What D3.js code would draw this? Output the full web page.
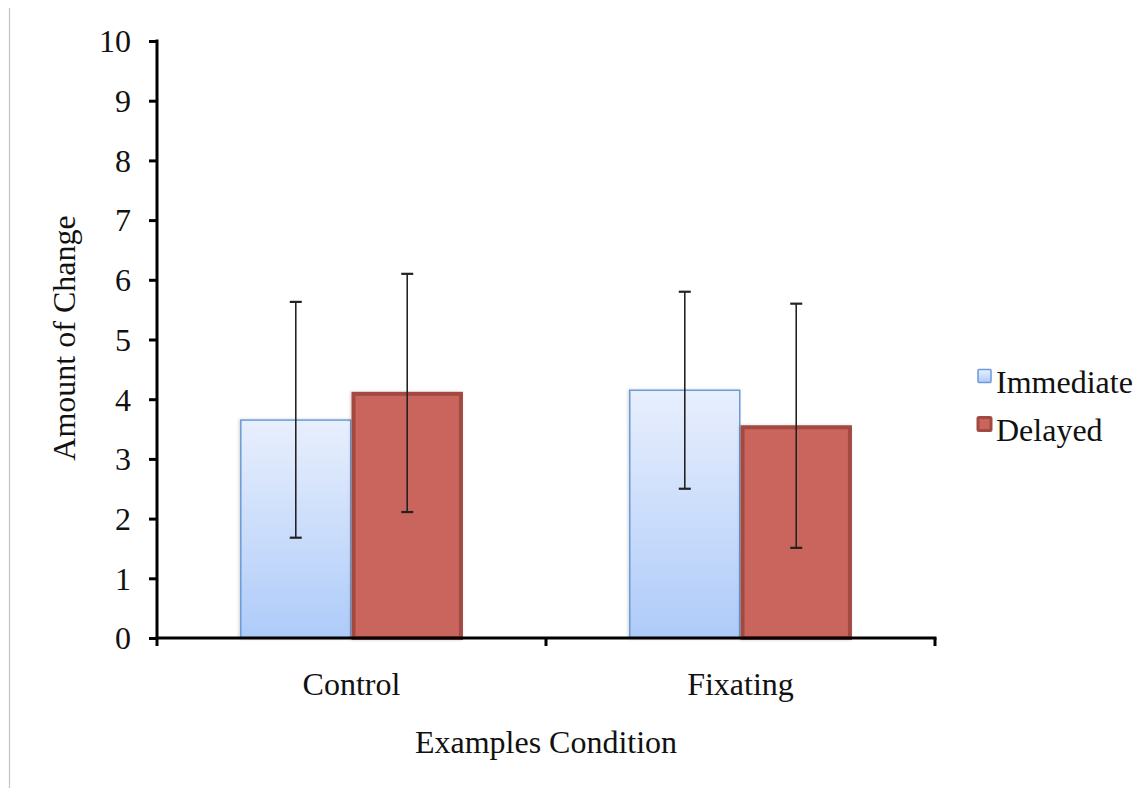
<!DOCTYPE html>
<html>
<head>
<meta charset="utf-8">
<script src="https://cdn.jsdelivr.net/npm/d3@7/dist/d3.min.js"></script>
<style>
  html, body { margin: 0; padding: 0; background: #fff; }
  svg { display: block; }
  text { font-family: "Liberation Serif", "Times New Roman", serif; fill: #111; }
</style>
</head>
<body>
<svg id="chart" width="1145" height="788"></svg>
<script>
const categories = ["Control", "Fixating"];
const series = ["Immediate", "Delayed"];
const immediateValues = [3.65, 4.15];
const delayedValues = [4.09, 3.53];
const immediateErrLow = [1.68, 2.50];
const immediateErrHigh = [5.63, 5.80];
const delayedErrLow = [2.11, 1.51];
const delayedErrHigh = [6.10, 5.60];
const yTicks = [0, 1, 2, 3, 4, 5, 6, 7, 8, 9, 10];
const xTitle = "Examples Condition";
const yTitle = "Amount of Change";

const data = [];
categories.forEach((c, i) => {
  data.push({cat: c, ser: "Immediate", v: immediateValues[i], lo: immediateErrLow[i], hi: immediateErrHigh[i]});
  data.push({cat: c, ser: "Delayed", v: delayedValues[i], lo: delayedErrLow[i], hi: delayedErrHigh[i]});
});

const svg = d3.select("#chart");
const FS = 32;

// faint frame line at left
svg.append("line").attr("x1", 9.5).attr("x2", 9.5).attr("y1", 8).attr("y2", 788)
  .attr("stroke", "#c4c4c4").attr("stroke-width", 1.2);

const x0 = d3.scaleBand().domain(categories).range([157, 935]).paddingInner(0).paddingOuter(0);
const x1 = d3.scaleBand().domain(series).range([0, x0.bandwidth()]).paddingInner(0).paddingOuter(0.745);
const y = d3.scaleLinear().domain([0, 10]).range([638, 41]);

const defs = svg.append("defs");
const g1 = defs.append("linearGradient").attr("id", "gradImm").attr("x1", 0).attr("y1", 0).attr("x2", 0).attr("y2", 1);
g1.append("stop").attr("offset", "0%").attr("stop-color", "#e8effd");
g1.append("stop").attr("offset", "100%").attr("stop-color", "#aecbf9");
const sh = defs.append("filter").attr("id", "shadow").attr("x", "-10%").attr("y", "-10%").attr("width", "120%").attr("height", "120%");
sh.append("feDropShadow").attr("dx", -1).attr("dy", 0).attr("stdDeviation", 1.5).attr("flood-color", "#000").attr("flood-opacity", 0.18);

// bars
const bars = svg.append("g");
bars.selectAll("rect").data(data).join("rect")
  .attr("x", d => x0(d.cat) + x1(d.ser) + (d.ser === "Delayed" ? 2 : 0.75))
  .attr("width", d => x1.bandwidth() - (d.ser === "Delayed" ? 4 : 1.5))
  .attr("y", d => y(d.v))
  .attr("height", d => y(0) - y(d.v))
  .attr("fill", d => d.ser === "Immediate" ? "url(#gradImm)" : "#c9655b")
  .attr("stroke", d => d.ser === "Immediate" ? "#6b9bd8" : "#a24a42")
  .attr("stroke-width", d => d.ser === "Immediate" ? 1.5 : 4)
  .attr("filter", "url(#shadow)");

// error bars
const eb = svg.append("g").attr("stroke", "#222").attr("stroke-width", 1.6);
data.forEach(d => {
  const cx = x0(d.cat) + x1(d.ser) + x1.bandwidth() / 2;
  eb.append("line").attr("x1", cx).attr("x2", cx).attr("y1", y(d.lo)).attr("y2", y(d.hi));
  eb.append("line").attr("x1", cx - 6).attr("x2", cx + 6).attr("y1", y(d.lo)).attr("y2", y(d.lo)).attr("stroke-width", 2.2);
  eb.append("line").attr("x1", cx - 6).attr("x2", cx + 6).attr("y1", y(d.hi)).attr("y2", y(d.hi)).attr("stroke-width", 2.2);
});

// y axis
const yAxis = d3.axisLeft(y).tickValues(yTicks).tickSize(8).tickPadding(18).tickSizeOuter(0);
const ya = svg.append("g").attr("transform", "translate(157,0)").call(yAxis);
ya.select(".domain").attr("stroke", "#000").attr("stroke-width", 3).attr("d", "M0,39.5V639.5");
ya.selectAll(".tick line").attr("stroke", "#000").attr("stroke-width", 3);
ya.selectAll(".tick text").style("font-family", '"Liberation Serif", serif').style("font-size", FS + "px").attr("fill", "#111").attr("dy", "0.34em");

// x axis
const xa = svg.append("g").attr("transform", "translate(0,638)");
xa.append("line").attr("x1", 155.5).attr("x2", 936.5).attr("y1", 0).attr("y2", 0).attr("stroke", "#000").attr("stroke-width", 3);
const xTickPos = [x0.range()[0], ...categories.slice(1).map(c => x0(c)), x0.range()[1]];
xa.selectAll("line.xt").data(xTickPos).join("line").attr("class", "xt")
  .attr("x1", d => d).attr("x2", d => d).attr("y1", 0).attr("y2", 8)
  .attr("stroke", "#000").attr("stroke-width", 3);
xa.selectAll("text.xl").data(categories).join("text").attr("class", "xl")
  .attr("x", d => x0(d) + x0.bandwidth() / 2).attr("y", 57)
  .attr("text-anchor", "middle").style("font-size", FS + "px").text(d => d);

// titles
svg.append("text").attr("x", 546).attr("y", 753).attr("text-anchor", "middle")
  .style("font-size", FS + "px").text(xTitle);
svg.append("text").attr("transform", "translate(75,338) rotate(-90)").attr("text-anchor", "middle")
  .style("font-size", FS + "px").text(yTitle);

// legend
const leg = svg.append("g");
series.forEach((s, i) => {
  const yy = 376 + i * 48;
  leg.append("rect").attr("x", 978).attr("y", yy - 6.5).attr("width", 13).attr("height", 13)
    .attr("fill", s === "Immediate" ? "url(#gradImm)" : "#c9655b")
    .attr("stroke", s === "Immediate" ? "#6b9bd8" : "#a24a42")
    .attr("stroke-width", s === "Immediate" ? 1.5 : 3).attr("rx", 1);
  leg.append("text").attr("x", 996).attr("y", yy + 17).style("font-size", FS + "px").text(s);
});
</script>
</body>
</html>
